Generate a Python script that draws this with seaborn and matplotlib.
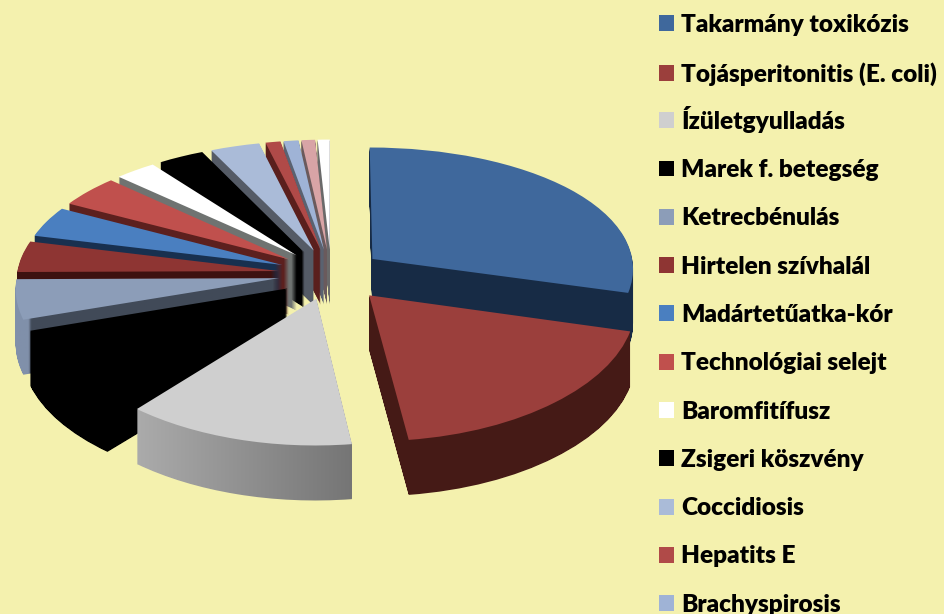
import numpy as np
import matplotlib
matplotlib.use("Agg")
import matplotlib.pyplot as plt
import seaborn as sns
from matplotlib.colors import LinearSegmentedColormap
from matplotlib.patches import Patch, PathPatch
from matplotlib.path import Path
from matplotlib.transforms import Transform

# Adatok (olvasva a képről, százalék)
legend_names = ["Takarmány toxikózis", "Tojásperitonitis (E. coli)", "Ízületgyulladás",
                "Marek f. betegség", "Ketrecbénulás", "Hirtelen szívhalál", "Madártetűatka-kór",
                "Technológiai selejt", "Baromfitífusz", "Zsigeri köszvény", "Coccidiosis",
                "Hepatits E", "Brachyspirosis"]
values = [29.3, 18.6, 13.0, 8.9, 5.0, 4.0, 4.0, 4.2, 2.8, 3.1, 3.3, 1.0, 1.0, 0.9, 0.8]
top_colors = ["#3F689C", "#9B3F3C", "#CFCFCF", "#000000", "#8C9DB8", "#8E3533", "#4A7FC0",
              "#C0504D", "#FFFFFF", "#000000", "#AABBD8", "#B04A48", "#9FB3D6", "#D8A4A6", "#FFFFFF"]
side_colors = ["#172B45", "#451A16", "#8F8F8F", "#000000", "#414A58", "#3D1110", "#18304F",
               "#5C201E", "#6F7371", "#000000", "#555B66", "#5A1F1D", "#5A6270", "#6A5A5C", "#6A6A6A"]
# Oldalfal-színátmenetek (szelet sorszáma -> színek balról jobbra)
side_gradients = {2: [(0.0, "#ABABAB"), (1.0, "#757575")],
                  4: [(0.0, "#8090AA"), (0.05, "#8090AA"), (0.06, "#414A58"), (1.0, "#414A58")]}
explode = [0.2, 0.22] + [0.2] * 13

BG = "#F4F1AE"
DEPTH = 55


class Tilt(Transform):
    # a kör síkja -> kép pixelek, enyhe perspektívával
    input_dims = 2
    output_dims = 2

    def transform_non_affine(self, values):
        u, v = values[:, 0], values[:, 1]
        w = 1 + 0.104 * v
        return np.column_stack([331 + 262 * u / (1 + 0.07 * v), 274 - 126 * v / w])


sns.set_theme(style="white", rc={"figure.facecolor": BG, "axes.facecolor": BG})
plt.rcParams["font.family"] = ["Lato", "DejaVu Sans"]

fig = plt.figure(figsize=(9.44, 6.14), dpi=100)
ax = fig.add_axes([0, 0, 1, 1])

wedges, _ = ax.pie(values, explode=explode, startangle=90, counterclock=False,
                   colors=sns.color_palette(top_colors, len(top_colors)), radius=1)
ax.set_aspect("auto")
ax.set_xlim(0, 944)
ax.set_ylim(614, 0)

tilt = Tilt()
mids = [np.radians((w.theta1 + w.theta2) / 2) for w in wedges]
order = np.argsort(-np.sin(mids))

# Hátulról előre: oldalfal, majd a szelet teteje
for rank, i in enumerate(order):
    wedge = wedges[i]
    wedge.set_transform(tilt + ax.transData)
    wedge.set_linewidth(0)
    wedge.set_zorder(2 * rank + 2)

    top_path = tilt.transform_path(wedge.get_path())
    layers = [Path(top_path.vertices + [0, d], top_path.codes) for d in range(1, DEPTH + 1)]
    sweep = Path.make_compound_path(*layers)
    if i in side_gradients:
        clip = PathPatch(sweep, transform=ax.transData)
        x0, y0 = sweep.vertices.min(axis=0)
        x1, y1 = sweep.vertices.max(axis=0)
        cmap = LinearSegmentedColormap.from_list("side", side_gradients[i])
        im = ax.imshow(np.linspace(0, 1, 256)[None, :], cmap=cmap, extent=(x0, x1, y1, y0),
                       aspect="auto", zorder=2 * rank + 1)
        im.set_clip_path(clip)
    else:
        ax.add_patch(PathPatch(sweep, facecolor=side_colors[i], linewidth=0, zorder=2 * rank + 1))

ax.set_xlim(0, 944)
ax.set_ylim(614, 0)
ax.set_aspect("auto")

handles = [Patch(facecolor=top_colors[i], linewidth=0) for i in range(len(legend_names))]
legend_style = dict(loc="upper left", frameon=False,
                    prop={"family": ["Lato", "DejaVu Sans"], "weight": "heavy", "size": 17.6},
                    handlelength=0.62, handleheight=0.62, handletextpad=0.3, labelspacing=1.076,
                    labelcolor="black", borderaxespad=0, borderpad=0.4)
# Két részben, mert az Í magasabb sort csinálna és elcsúszna a többi
leg_top = ax.legend(handles[:2], legend_names[:2], bbox_to_anchor=(649 / 944, 1 - 4 / 614), **legend_style)
leg_top.set_zorder(100)
ax.add_artist(leg_top)
leg_rest = ax.legend(handles[2:], legend_names[2:], bbox_to_anchor=(649 / 944, 1 - 96 / 614), **legend_style)
leg_rest.set_zorder(100)

fig.savefig("out.png", dpi=100, facecolor=BG)
